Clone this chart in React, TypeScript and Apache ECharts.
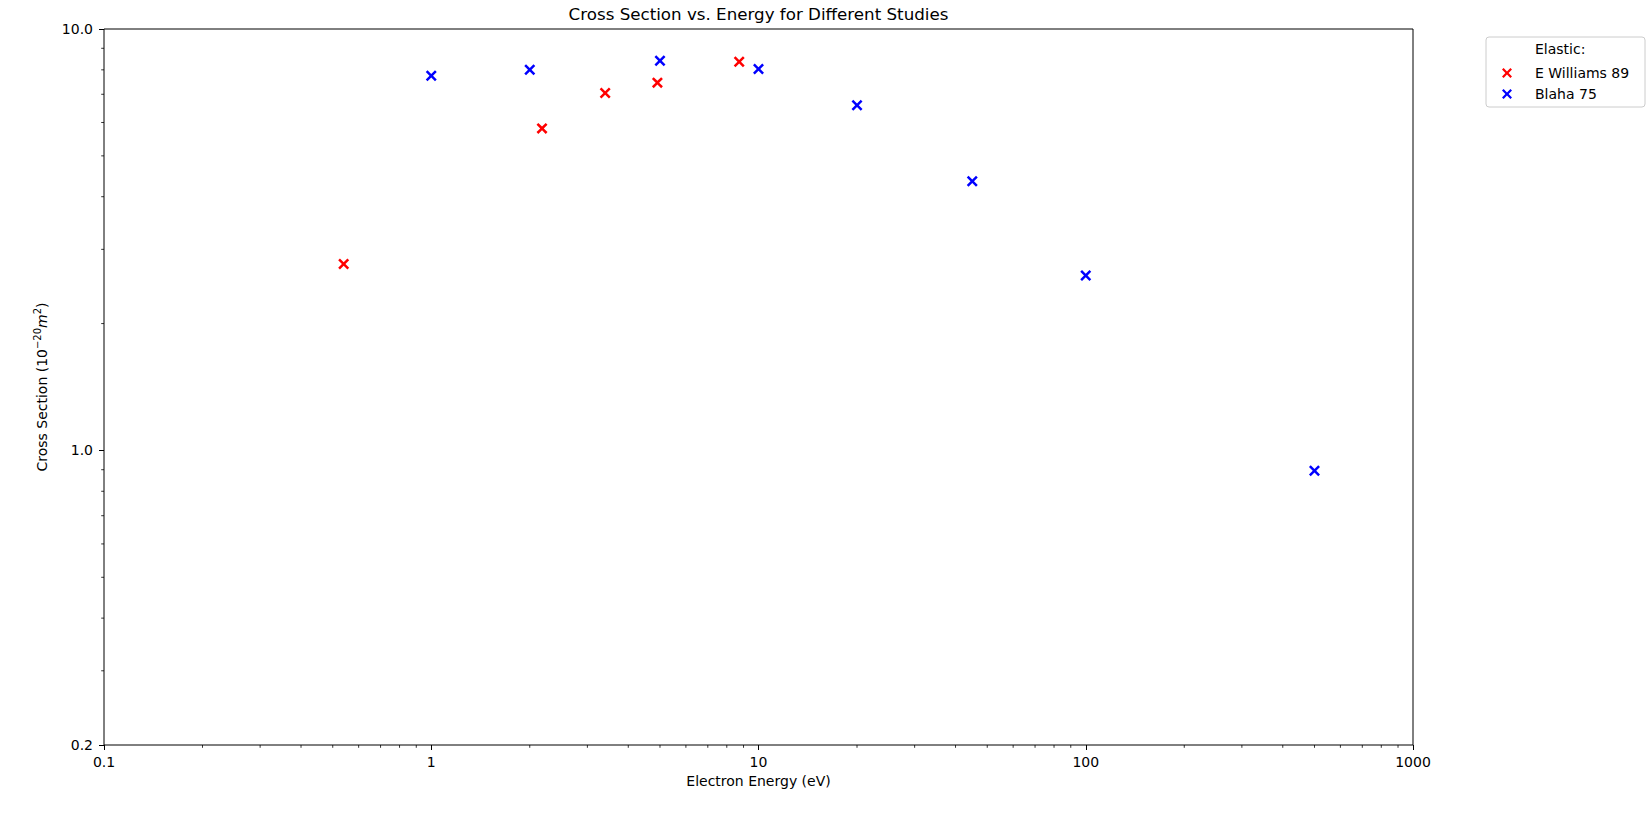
import React, { useEffect, useRef } from "react";
import * as echarts from "echarts";

const williamsEnergy = [0.54, 2.18, 3.4, 4.91, 8.73];
const williamsCross = [2.77, 5.81, 7.05, 7.46, 8.36];
const blahaEnergy = [1, 2, 5, 10, 20, 45, 100, 500];
const blahaCross = [7.75, 8.0, 8.41, 8.04, 6.59, 4.35, 2.6, 0.895];
const xMinorTicks = [
  0.2, 0.3, 0.4, 0.5, 0.6, 0.7, 0.8, 0.9,
  2, 3, 4, 5, 6, 7, 8, 9,
  20, 30, 40, 50, 60, 70, 80, 90,
  200, 300, 400, 500, 600, 700, 800, 900,
];
const yMinorTicks = [0.3, 0.4, 0.5, 0.6, 0.7, 0.8, 0.9, 2, 3, 4, 5, 6, 7, 8, 9];

const FONT = "DejaVu Sans";
const XMARK =
  "path://M0,16L16,0L50,34L84,0L100,16L66,50L100,84L84,100L50,66L16,100L0,84L34,50Z";

export default function App() {
  const ref = useRef<HTMLDivElement>(null);
  useEffect(() => {
    if (!ref.current) return;
    const chart = echarts.init(ref.current, undefined, { renderer: "svg" });
    const gridLeft = 104;
    const gridTop = 29;
    const gridW = 1309;
    const gridH = 716;
    chart.setOption({
      animation: false,
      backgroundColor: "#ffffff",
      textStyle: { fontFamily: FONT },
      grid: {
        left: gridLeft,
        top: gridTop,
        width: gridW,
        height: gridH,
        show: true,
        borderColor: "#000000",
        borderWidth: 1,
        backgroundColor: "transparent",
      },
      xAxis: {
        type: "log",
        logBase: 10,
        min: 0.1,
        max: 1000,
        name: "Electron Energy (eV)",
        nameLocation: "middle",
        nameGap: 25,
        nameTextStyle: { fontFamily: FONT, fontSize: 14, color: "#000" },
        axisLine: { show: false },
        axisTick: { show: true, length: 5, inside: false, lineStyle: { color: "#000", width: 1 } },
        minorTick: { show: false },
        splitLine: { show: false },
        axisLabel: {
          margin: 10,
          fontFamily: FONT,
          fontSize: 14,
          color: "#000",
          formatter: (v: number) => (v < 1 ? v.toFixed(1) : String(Math.round(v))),
        },
      },
      yAxis: {
        type: "log",
        logBase: 10,
        min: 0.2,
        max: 10,
        name: "Cross Section (10{sup|−20}{it|m}{sup|2})",
        nameLocation: "middle",
        nameRotate: 90,
        nameGap: 52,
        nameTextStyle: {
          fontFamily: FONT,
          fontSize: 14,
          color: "#000",
          lineHeight: 18,
          rich: {
            sup: { fontFamily: FONT, fontSize: 10, color: "#000", verticalAlign: "top", lineHeight: 10 },
            it: { fontFamily: FONT, fontSize: 14, fontStyle: "italic", color: "#000" },
          },
        },
        axisLine: { show: false },
        axisTick: { show: true, length: 5, inside: false, lineStyle: { color: "#000", width: 1 } },
        minorTick: { show: false },
        splitLine: { show: false },
        axisLabel: {
          margin: 11,
          fontFamily: FONT,
          fontSize: 14,
          color: "#000",
          formatter: (v: number) => v.toFixed(1),
        },
      },
      legend: {
        data: ["E Williams 89", "Blaha 75"],
        orient: "vertical",
        left: 1502,
        top: 65,
        padding: 0,
        itemWidth: 46,
        itemHeight: 10,
        itemGap: 5,
        symbolKeepAspect: true,
        itemStyle: { opacity: 1 },
        textStyle: { fontFamily: FONT, fontSize: 14, color: "#000", lineHeight: 16 },
        selectedMode: false,
      },
      graphic: [
        {
          type: "rect",
          z: -1,
          shape: { x: 1486, y: 37, width: 159, height: 70, r: 3 },
          style: { fill: "rgba(255,255,255,0.8)", stroke: "#cccccc", lineWidth: 1 },
        },
        {
          type: "text",
          x: 1535,
          y: 49,
          style: {
            text: "Elastic:",
            fontFamily: FONT,
            fontSize: 14,
            fill: "#000",
            textAlign: "left",
            textVerticalAlign: "middle",
          },
        },
        {
          type: "text",
          x: gridLeft + gridW / 2,
          y: 14,
          style: {
            text: "Cross Section vs. Energy for Different Studies",
            fontFamily: FONT,
            fontSize: 16.7,
            fill: "#000",
            textAlign: "center",
            textVerticalAlign: "middle",
          },
        },
      ],
      series: [
        {
          name: "E Williams 89",
          type: "scatter",
          symbol: XMARK,
          symbolSize: 11,
          itemStyle: { color: "#ff0000", opacity: 1 },
          data: williamsEnergy.map((e, i) => [e, williamsCross[i]]),
          z: 3,
        },
        {
          name: "Blaha 75",
          type: "scatter",
          symbol: XMARK,
          symbolSize: 11,
          itemStyle: { color: "#0000ff", opacity: 1 },
          data: blahaEnergy.map((e, i) => [e, blahaCross[i]]),
          z: 3,
        },
        {
          name: "xMinor",
          type: "custom",
          clip: false,
          silent: true,
          data: xMinorTicks.map((v) => [v, 0.2]),
          renderItem: (params: any, api: any) => {
            const p = api.coord([api.value(0), api.value(1)]);
            return {
              type: "line",
              shape: { x1: p[0], y1: p[1], x2: p[0], y2: p[1] + 2.8 },
              style: { stroke: "#000", lineWidth: 0.8 },
            };
          },
        },
        {
          name: "yMinor",
          type: "custom",
          clip: false,
          silent: true,
          data: yMinorTicks.map((v) => [0.1, v]),
          renderItem: (params: any, api: any) => {
            const p = api.coord([api.value(0), api.value(1)]);
            return {
              type: "line",
              shape: { x1: p[0], y1: p[1], x2: p[0] - 2.8, y2: p[1] },
              style: { stroke: "#000", lineWidth: 0.8 },
            };
          },
        },
      ],
    });
    return () => chart.dispose();
  }, []);
  return (
    <div
      ref={ref}
      style={{ position: "absolute", left: 0, top: 0, width: 1649, height: 814 }}
    />
  );
}
